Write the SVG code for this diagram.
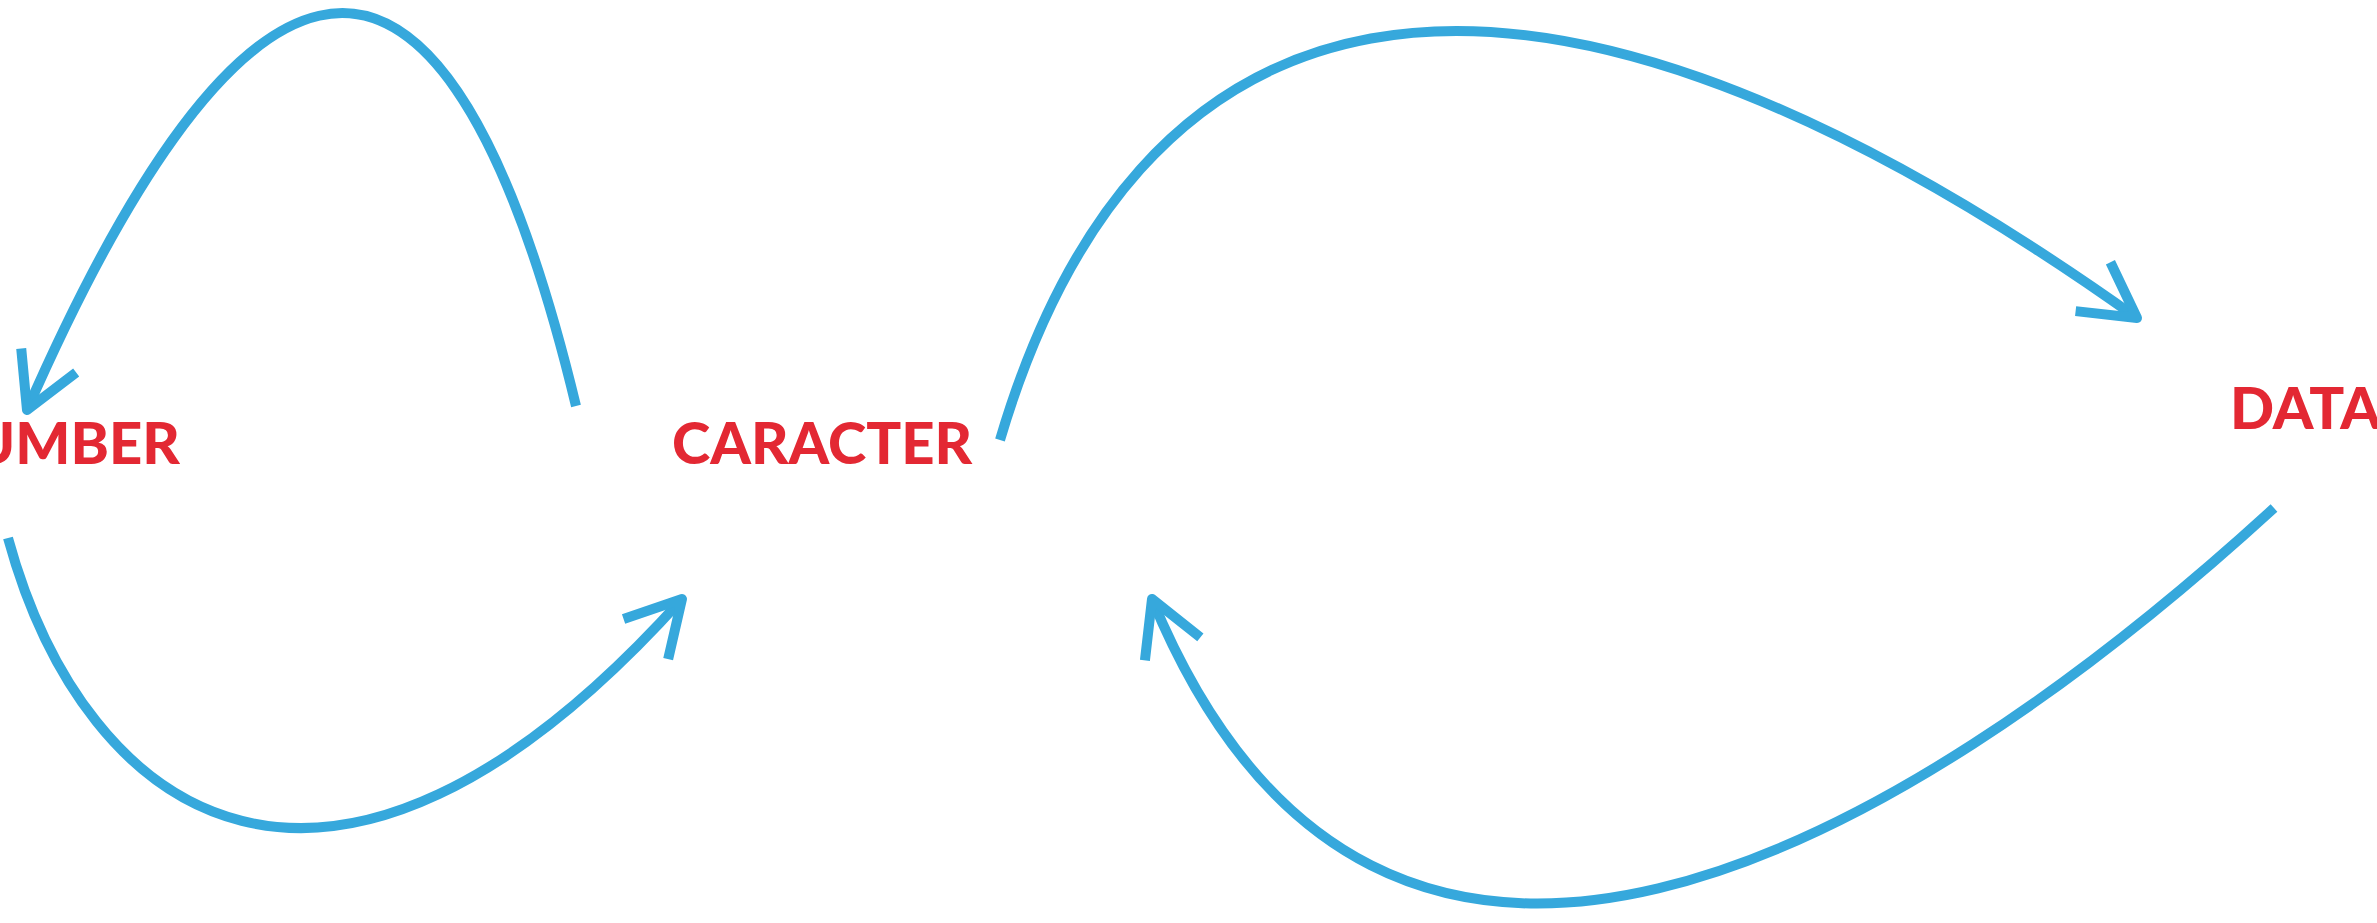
<svg xmlns="http://www.w3.org/2000/svg" width="2377" height="923" viewBox="0 0 2377 923">
<style>
.lbl{font-family:"Lato","Liberation Sans",sans-serif;font-weight:900;fill:#E32833;font-size:58px}
.arc{fill:none;stroke:#36A8DC;stroke-width:10;stroke-linecap:butt}
</style>
<defs>
<marker id="ah" markerUnits="userSpaceOnUse" viewBox="-70 -40 80 80" markerWidth="80" markerHeight="80" refX="0" refY="0" orient="auto">
<path d="M-54,-30 L0,0 L-54,30" fill="none" stroke="#36A8DC" stroke-width="10" stroke-linejoin="round" stroke-linecap="butt"/>
</marker>
</defs>
<rect width="2377" height="923" fill="#fff"/>
<g id="connectors">
<path class="arc" marker-end="url(#ah)" d="M576,406 C430,-200 220,-30 27,410"/>
<path class="arc" marker-end="url(#ah)" d="M8,538 C85,820 330,990 682,599"/>
<path class="arc" marker-end="url(#ah)" d="M1000,440 C1130,0 1480,-150 2137,318"/>
<path class="arc" marker-end="url(#ah)" d="M2274,508 C1900,850 1380,1150 1152,599"/>
</g>
<g id="node-number"><text class="lbl" x="180" y="464" text-anchor="end">NUMBER</text></g>
<g id="node-caracter"><text class="lbl" x="672" y="464">CARACTER</text></g>
<g id="node-data"><text class="lbl" x="2230" y="429">DATA</text></g>
</svg>
